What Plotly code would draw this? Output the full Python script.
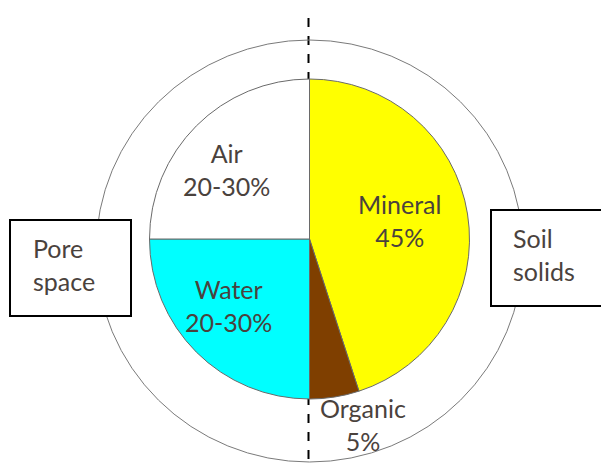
import plotly.graph_objects as go

W, H = 601, 464

# Data
components = ["Mineral", "Organic", "Water", "Air"]
shares = [45, 5, 25, 25]
share_labels = ["45%", "5%", "20-30%", "20-30%"]
slice_colors = ["#ffff00", "#7f3f00", "#00ffff", "#ffffff"]
group_labels = ["Pore<br>space", "Soil<br>solids"]

TXT = "#4a423d"
FONT = "Lato"
FS = 25

def px(x):
    return x / W

def py(y):
    return 1 - y / H

fig = go.Figure()
fig.add_trace(go.Pie(
    labels=components,
    values=shares,
    sort=False,
    direction="clockwise",
    rotation=0,
    marker=dict(colors=slice_colors, line=dict(color="#6a6a6a", width=1)),
    textinfo="none",
    hoverinfo="label+percent",
    showlegend=False,
    domain=dict(x=[px(149.5), px(469.5)], y=[py(399), py(79)]),
))

# slice label positions (pixels)
label_pos = {"Mineral": (399, 220), "Organic": (363, 424), "Water": (228, 305), "Air": (226, 169)}
annotations = []
for name, lab in zip(components, share_labels):
    x, y = label_pos[name]
    annotations.append(dict(
        x=px(x), y=py(y), xref="paper", yref="paper",
        text=f"{name}<br>{lab}", showarrow=False,
        font=dict(family=FONT, size=FS, color=TXT),
        align="center", xanchor="center", yanchor="middle",
    ))

# group boxes labels
annotations.append(dict(x=px(31), y=py(264), xref="paper", yref="paper",
                        text=group_labels[0], showarrow=False, align="left",
                        xanchor="left", yanchor="middle",
                        font=dict(family=FONT, size=FS, color=TXT)))
annotations.append(dict(x=px(511), y=py(255), xref="paper", yref="paper",
                        text=group_labels[1], showarrow=False, align="left",
                        xanchor="left", yanchor="middle",
                        font=dict(family=FONT, size=FS, color=TXT)))

shapes = [
    # dashed divider (under pie)
    dict(type="line", xref="paper", yref="paper", x0=px(308.5), x1=px(308.5),
         y0=py(18), y1=py(464), line=dict(color="black", width=2, dash="dash"),
         layer="below"),
    # outer ring
    dict(type="circle", xref="paper", yref="paper", x0=px(96), x1=px(523),
         y0=py(462), y1=py(40), line=dict(color="#7a7a7a", width=1),
         layer="below"),
    # boxes
    dict(type="rect", xref="paper", yref="paper", x0=px(10), x1=px(131),
         y0=py(316), y1=py(220), line=dict(color="black", width=2),
         fillcolor="white", layer="above"),
    dict(type="rect", xref="paper", yref="paper", x0=px(491), x1=px(603),
         y0=py(306), y1=py(210), line=dict(color="black", width=2),
         fillcolor="white", layer="above"),
]

fig.update_layout(
    width=W, height=H,
    margin=dict(l=0, r=0, t=0, b=0),
    paper_bgcolor="white", plot_bgcolor="white",
    shapes=shapes, annotations=annotations,
)

fig.write_html("out.html", config={"displayModeBar": False},
               post_script="document.body.style.margin='0';document.body.style.overflow='hidden';")
